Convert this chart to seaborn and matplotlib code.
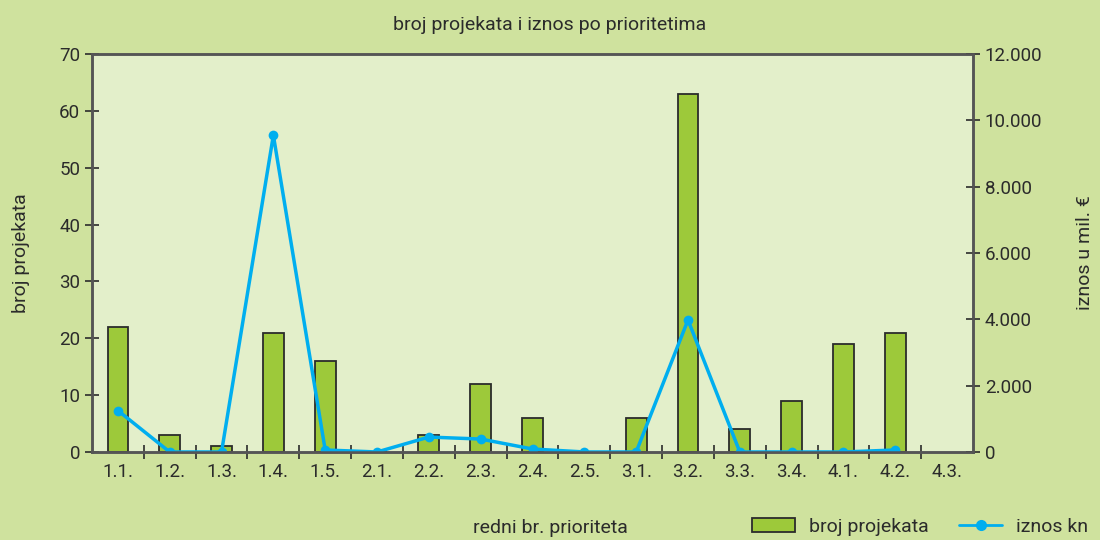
import numpy as np
import pandas as pd
import seaborn as sns
import matplotlib.pyplot as plt
from matplotlib.patches import Patch
from matplotlib.lines import Line2D
from matplotlib.ticker import FuncFormatter, FixedLocator

# --- data ---
prioriteti = ['1.1.', '1.2.', '1.3.', '1.4.', '1.5.', '2.1.', '2.2.', '2.3.', '2.4.',
              '2.5.', '3.1.', '3.2.', '3.3.', '3.4.', '4.1.', '4.2.', '4.3.']
broj_projekata = [22, 3, 1, 21, 16, 0, 3, 12, 6, 0, 6, 63, 4, 9, 19, 21]
iznos_kn = [1250, 0, 0, 9550, 60, 0, 450, 390, 90, 0, 0, 3980, 0, 0, 0, 60]

bg_fig = '#cfe29e'
bg_ax = '#e3efca'
bar_col = '#9dc93a'
line_col = '#00aeef'
dark = '#2b2b2b'

sns.set_theme(style='white')
plt.rcParams['font.family'] = ['Roboto', 'DejaVu Sans']

df = pd.DataFrame({'prioritet': prioriteti[:len(broj_projekata)],
                   'broj': broj_projekata})
df_line = pd.DataFrame({'pos': np.arange(len(iznos_kn)), 'iznos': iznos_kn})

fig = plt.figure(figsize=(11, 5.4), dpi=100, facecolor=bg_fig)
ax = fig.add_axes([0.0836, 0.163, 0.801, 0.737])
ax.set_facecolor(bg_ax)

sns.barplot(data=df, x='prioritet', y='broj', order=prioriteti, color=bar_col,
            width=0.4, edgecolor=dark, linewidth=1.3, saturation=1, ax=ax)
ax.set_xlim(-0.5, len(prioriteti) - 0.5)
ax.set_ylim(0, 70)
ax.set_yticks(range(0, 71, 10))

ax2 = ax.twinx()
sns.lineplot(data=df_line, x='pos', y='iznos', color=line_col, linewidth=2.5,
             marker='o', markersize=7, markeredgewidth=0, ax=ax2)
ax2.set_ylim(0, 12000)
ax2.set_yticks(range(0, 12001, 2000))
ax2.yaxis.set_major_formatter(FuncFormatter(lambda v, p: f'{int(v):,}'.replace(',', '.')))
ax2.set_xlim(-0.5, len(prioriteti) - 0.5)

# ticks between categories, labels centred
ax.xaxis.set_minor_locator(FixedLocator(np.arange(0.5, len(prioriteti) - 0.5, 1)))
ax.tick_params(axis='x', which='major', length=0, labelsize=13.5, colors=dark, pad=8)
ax.tick_params(axis='x', which='minor', direction='inout', length=10, width=1.2, color=dark, bottom=True)
ax.tick_params(axis='y', direction='inout', length=10, width=1.2, color=dark,
               labelsize=13.5, labelcolor=dark, left=True)
ax2.tick_params(axis='y', direction='inout', length=10, width=1.2, color=dark,
                labelsize=13.5, labelcolor=dark, right=True)

for a in (ax, ax2):
    for s in a.spines.values():
        s.set_color('#555555')
        s.set_linewidth(1.8)

ax.set_xlabel('')
ax.set_ylabel('broj projekata', fontsize=14, color=dark)
ax2.set_ylabel('iznos u mil. €', fontsize=14, color=dark)
ax.yaxis.set_label_coords(-0.07, 0.5)
ax2.yaxis.set_label_coords(1.117, 0.5)

fig.text(0.5, 0.953, 'broj projekata i iznos po prioritetima', ha='center', va='center',
         fontsize=14, color=dark)
fig.text(0.5, 0.022, 'redni br. prioriteta', ha='center', va='center', fontsize=14, color=dark)

handles = [Patch(facecolor=bar_col, edgecolor=dark, linewidth=1.3),
           Line2D([0], [0], color=line_col, linewidth=2, marker='o', markersize=7)]
fig.legend(handles, ['broj projekata', 'iznos kn'], loc='lower right',
           bbox_to_anchor=(1.005, -0.025), ncol=2, frameon=False, fontsize=14,
           handlelength=2.2, columnspacing=1.6, handletextpad=0.7, labelcolor=dark)

fig.savefig('out.png', dpi=100, facecolor=bg_fig)
